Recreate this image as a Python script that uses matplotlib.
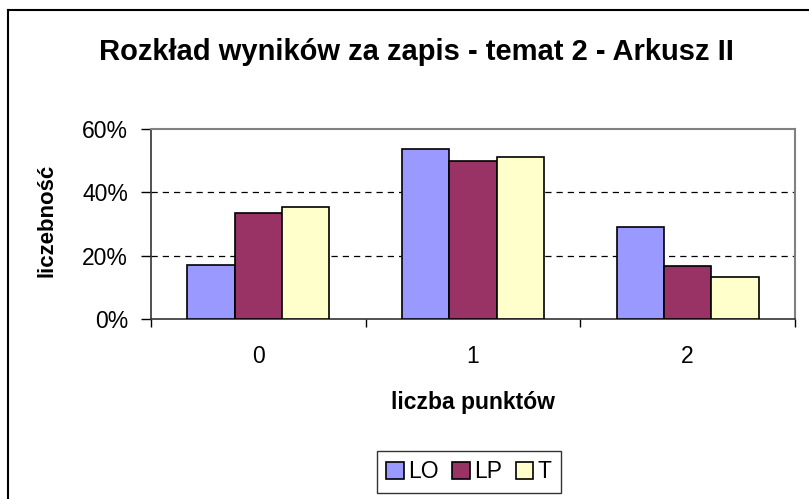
import numpy as np
import matplotlib
matplotlib.use('Agg')
import matplotlib.pyplot as plt
from matplotlib.lines import Line2D
from matplotlib.ticker import PercentFormatter

plt.rcParams['font.family'] = ['Liberation Sans', 'DejaVu Sans']

# dane
kategorie = ['0', '1', '2']
serie = ['LO', 'LP', 'T']
lo = [17.1, 53.7, 29.0]
lp = [33.4, 50.0, 16.6]
t = [35.3, 51.2, 13.4]
kolory = ['#9999FF', '#993366', '#FFFFCC']

W, H = 809, 499
fig = plt.figure(figsize=(W / 100, H / 100), dpi=100)
ax = fig.add_axes([151 / W, (H - 319) / H, (795 - 151) / W, (319 - 129) / H])

x = np.arange(len(kategorie))
szer = 0.22
for i, (dane, kol, nazwa) in enumerate(zip([lo, lp, t], kolory, serie)):
    ax.bar(x + (i - 1) * szer, dane, szer, color=kol, edgecolor='black',
           linewidth=1.2, label=nazwa, zorder=3)

ax.set_xlim(-0.5, 2.5)
ax.set_ylim(0, 60)
ax.set_yticks([0, 20, 40, 60])
ax.yaxis.set_major_formatter(PercentFormatter(decimals=0))
ax.set_xticks(x)
ax.set_xticklabels(kategorie)
ax.set_xticks([-0.5, 0.5, 1.5, 2.5], minor=True)
ax.tick_params(axis='x', which='major', length=0, pad=19, labelsize=16.5)
ax.tick_params(axis='x', which='minor', length=6, width=1, direction='out')
ax.tick_params(axis='y', length=7, width=1, direction='out', pad=9.5, labelsize=16.5)

for y in [20, 40]:
    ax.axhline(y, color='black', linestyle=(0, (5, 4)), linewidth=0.9, zorder=1)

for s in ['top', 'right']:
    ax.spines[s].set_color('#808080')
    ax.spines[s].set_linewidth(1.5)
for s in ['left', 'bottom']:
    ax.spines[s].set_color('#333333')
    ax.spines[s].set_linewidth(1.2)

fig.text(416 / W, 1 - 52 / H, 'Rozkład wyników za zapis - temat 2 - Arkusz II',
         ha='center', va='center', fontsize=21, fontweight='bold')
fig.text(473 / W, 1 - 403 / H, 'liczba punktów', ha='center', va='center',
         fontsize=16.5, fontweight='bold')
fig.text(47 / W, 1 - 220 / H, 'liczebność', ha='center', va='center',
         rotation=90, fontsize=16, fontweight='bold')

leg = fig.legend(loc='center', bbox_to_anchor=(469 / W, 1 - 472 / H), ncol=3,
                 fontsize=16.5, frameon=True, fancybox=False, edgecolor='black',
                 handlelength=0.75, handleheight=0.75, handletextpad=0.2,
                 columnspacing=0.6, borderpad=0.4)
leg.get_frame().set_linewidth(1.0)

# ramka wykresu
fig.add_artist(Line2D([8 / W, 8 / W], [0, 1 - 10 / H], color='black', linewidth=1.5))
fig.add_artist(Line2D([8 / W, 1], [1 - 10 / H, 1 - 10 / H], color='black', linewidth=1.5))

fig.savefig('out.png', dpi=100)
